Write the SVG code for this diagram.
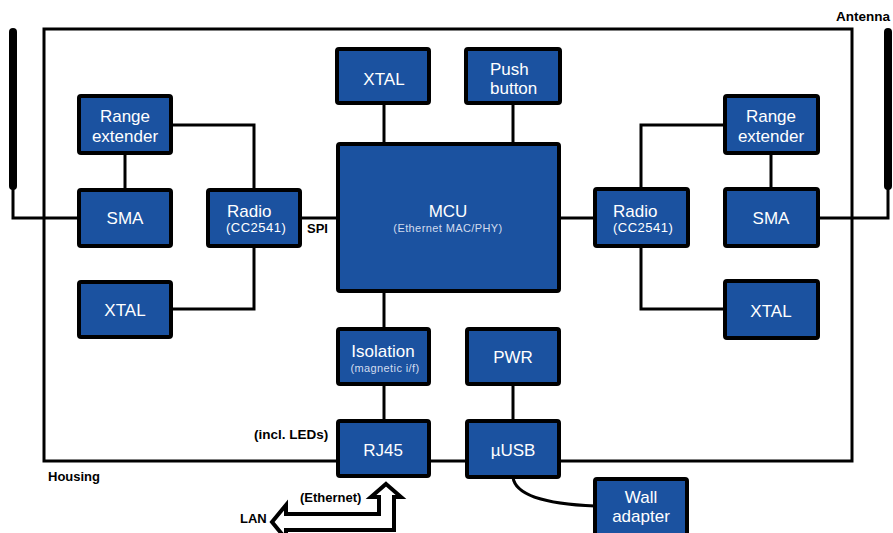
<svg xmlns="http://www.w3.org/2000/svg" width="893" height="533" viewBox="0 0 893 533">
<style>
.box{fill:#1b52a0;stroke:#000;stroke-width:4}
.t{font-family:"Liberation Sans",Arial,sans-serif;font-size:17px;fill:#fff;text-anchor:middle}
.s{font-family:"Liberation Sans",Arial,sans-serif;font-size:11px;fill:#d2dcee;text-anchor:middle;letter-spacing:0.4px}
.r{font-family:"Liberation Sans",Arial,sans-serif;font-size:13px;fill:#fff;letter-spacing:0.5px}
.lb{font-family:"Liberation Sans",Arial,sans-serif;font-size:13px;font-weight:bold;fill:#000}
.c{fill:none;stroke:#000;stroke-width:3}
</style>
<rect width="893" height="533" fill="#fff"/>
<g id="housing">
<rect x="44" y="29" width="808" height="432" fill="none" stroke="#000" stroke-width="3"/>
<text class="lb" x="48" y="481">Housing</text>
</g>
<g id="antenna-left">
<line x1="13" y1="32" x2="13" y2="186" stroke="#000" stroke-width="8" stroke-linecap="round"/>
</g>
<g id="antenna-right">
<line x1="888" y1="32" x2="888" y2="186" stroke="#000" stroke-width="8" stroke-linecap="round"/>
<text class="lb" x="836" y="21" style="font-size:13.5px">Antenna</text>
</g>
<g id="connectors">
<polyline class="c" points="13,186 13,218 79,218"/>
<polyline class="c" points="888,186 888,218 818,218"/>
<polyline class="c" points="171,125 254,125 254,190"/>
<line class="c" x1="125" y1="153" x2="125" y2="190"/>
<polyline class="c" points="254,246 254,309 171,309"/>
<line class="c" x1="300" y1="218" x2="338" y2="218"/>
<line class="c" x1="384" y1="103" x2="384" y2="144"/>
<line class="c" x1="513" y1="103" x2="513" y2="144"/>
<line class="c" x1="559" y1="218" x2="595" y2="218"/>
<polyline class="c" points="641,189 641,125 725,125"/>
<line class="c" x1="771" y1="153" x2="771" y2="189"/>
<polyline class="c" points="641,246 641,309 725,309"/>
<line class="c" x1="384" y1="291" x2="384" y2="329"/>
<line class="c" x1="384" y1="384" x2="384" y2="421"/>
<line class="c" x1="513" y1="384" x2="513" y2="421"/>
<path class="c" d="M513,477 C515,495 545,504 595,506"/>
<text class="lb" x="307" y="233">SPI</text>
</g>
<g id="lan-arrow">
<polygon points="386,484 401,497 394,497 394,530 286,530 286,539 272,522 286,505 286,514 379,514 379,497 371,497" fill="#fff" stroke="#000" stroke-width="4" stroke-linejoin="miter"/>
<text class="lb" x="300" y="502">(Ethernet)</text>
<text class="lb" x="240" y="523">LAN</text>
</g>
<g id="range-left">
<rect class="box" x="79" y="96" width="92" height="57" rx="2"/>
<text class="t" x="125" y="122">Range</text>
<text class="t" x="125" y="142">extender</text>
</g>
<g id="sma-left">
<rect class="box" x="79" y="190" width="92" height="56" rx="2"/>
<text class="t" x="125" y="224">SMA</text>
</g>
<g id="radio-left">
<rect class="box" x="208" y="190" width="92" height="56" rx="2"/>
<text class="t" x="227" y="217" style="text-anchor:start">Radio</text>
<text class="r" x="226" y="232">(CC2541)</text>
</g>
<g id="xtal-left">
<rect class="box" x="79" y="282" width="92" height="55" rx="2"/>
<text class="t" x="125" y="316">XTAL</text>
</g>
<g id="xtal-top">
<rect class="box" x="337" y="49" width="92" height="54" rx="2"/>
<text class="t" x="384" y="85">XTAL</text>
</g>
<g id="push-button">
<rect class="box" x="466" y="49" width="94" height="54" rx="2"/>
<text class="t" x="490" y="75" style="text-anchor:start">Push</text>
<text class="t" x="490" y="94" style="text-anchor:start">button</text>
</g>
<g id="mcu">
<rect class="box" x="338" y="144" width="221" height="147" rx="2"/>
<text class="t" x="448" y="217">MCU</text>
<text class="s" x="448" y="232">(Ethernet MAC/PHY)</text>
</g>
<g id="radio-right">
<rect class="box" x="595" y="189" width="93" height="57" rx="2"/>
<text class="t" x="613" y="217" style="text-anchor:start">Radio</text>
<text class="r" x="613" y="232">(CC2541)</text>
</g>
<g id="range-right">
<rect class="box" x="725" y="96" width="93" height="57" rx="2"/>
<text class="t" x="771" y="122">Range</text>
<text class="t" x="771" y="142">extender</text>
</g>
<g id="sma-right">
<rect class="box" x="725" y="189" width="93" height="57" rx="2"/>
<text class="t" x="771" y="224">SMA</text>
</g>
<g id="xtal-right">
<rect class="box" x="725" y="281" width="93" height="57" rx="2"/>
<text class="t" x="771" y="317">XTAL</text>
</g>
<g id="isolation">
<rect class="box" x="338" y="329" width="91" height="55" rx="2"/>
<text class="t" x="383" y="357">Isolation</text>
<text class="s" x="385" y="372">(magnetic i/f)</text>
</g>
<g id="pwr">
<rect class="box" x="467" y="329" width="92" height="55" rx="2"/>
<text class="t" x="513" y="363">PWR</text>
</g>
<g id="rj45">
<rect class="box" x="338" y="421" width="91" height="55" rx="2"/>
<text class="t" x="383" y="456">RJ45</text>
<text class="lb" x="254" y="439" style="font-size:13.5px">(incl. LEDs)</text>
</g>
<g id="usb">
<rect class="box" x="467" y="421" width="92" height="56" rx="2"/>
<text class="t" x="513" y="456">µUSB</text>
</g>
<g id="wall-adapter">
<rect class="box" x="595" y="479" width="92" height="62" rx="2"/>
<text class="t" x="641" y="503">Wall</text>
<text class="t" x="641" y="522">adapter</text>
</g>
</svg>
